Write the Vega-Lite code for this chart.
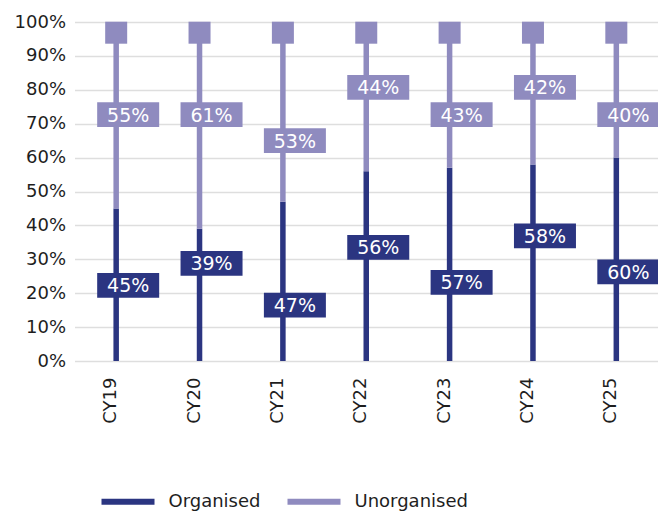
{
  "$schema": "https://vega.github.io/schema/vega-lite/v6.json",
  "width": 583.5,
  "height": 339,
  "autosize": {"type": "none"},
  "padding": {"left": 74.5, "top": 22, "right": 0, "bottom": 151},
  "background": "white",
  "config": {
    "view": {"stroke": null},
    "font": "DejaVu Sans",
    "axisY": {
      "tickCount": 10,
      "format": ".0%",
      "domain": false,
      "ticks": false,
      "labelOverlap": false,
      "labelPadding": 9,
      "labelFontSize": 18,
      "labelColor": "#1e1e1e",
      "gridColor": "#dedede",
      "gridWidth": 1.3,
      "title": null
    }
  },
  "data": {
    "values": [
      {"year": "CY19", "series": "Organised", "share": 0.45, "label_at": 0.223},
      {"year": "CY20", "series": "Organised", "share": 0.39, "label_at": 0.288},
      {"year": "CY21", "series": "Organised", "share": 0.47, "label_at": 0.165},
      {"year": "CY22", "series": "Organised", "share": 0.56, "label_at": 0.335},
      {"year": "CY23", "series": "Organised", "share": 0.57, "label_at": 0.232},
      {"year": "CY24", "series": "Organised", "share": 0.58, "label_at": 0.369},
      {"year": "CY25", "series": "Organised", "share": 0.60, "label_at": 0.263},
      {"year": "CY19", "series": "Unorganised", "share": 0.55, "label_at": 0.727},
      {"year": "CY20", "series": "Unorganised", "share": 0.61, "label_at": 0.727},
      {"year": "CY21", "series": "Unorganised", "share": 0.53, "label_at": 0.650},
      {"year": "CY22", "series": "Unorganised", "share": 0.44, "label_at": 0.807},
      {"year": "CY23", "series": "Unorganised", "share": 0.43, "label_at": 0.727},
      {"year": "CY24", "series": "Unorganised", "share": 0.42, "label_at": 0.807},
      {"year": "CY25", "series": "Unorganised", "share": 0.40, "label_at": 0.727}
    ]
  },
  "encoding": {
    "x": {
      "field": "year",
      "type": "nominal",
      "title": null,
      "scale": {"paddingInner": 0, "paddingOuter": 0},
      "axis": {
        "labelAngle": -90,
        "ticks": false,
        "domain": false,
        "grid": false,
        "labelPadding": 16,
        "labelOffset": -5,
        "labelFontSize": 18,
        "labelColor": "#1e1e1e"
      }
    }
  },
  "layer": [
    {
      "mark": {"type": "bar", "width": 5.5},
      "encoding": {
        "y": {
          "field": "share",
          "type": "quantitative",
          "stack": "zero",
          "title": null,
          "scale": {"domain": [0, 1], "nice": false},
          "axis": {"tickCount": 10, "labelOverlap": false, "format": ".0%"}
        },
        "order": {"field": "series", "sort": "ascending"},
        "color": {
          "field": "series",
          "type": "nominal",
          "scale": {"domain": ["Organised", "Unorganised"], "range": ["#2b3581", "#8f8bbf"]},
          "legend": {
            "title": null,
            "orient": "none",
            "direction": "horizontal",
            "legendX": 24,
            "legendY": 450,
            "padding": 0,
            "symbolType": "stroke",
            "symbolSize": 2809,
            "symbolStrokeWidth": 6,
            "labelFontSize": 18,
            "labelColor": "#1e1e1e",
            "labelOffset": 11,
            "columnPadding": 15,
            "encode": {
              "symbols": {
                "update": {
                  "stroke": {"scale": "color", "field": "value"},
                  "strokeWidth": {"value": 6}
                }
              }
            }
          }
        }
      }
    },
    {
      "transform": [{"filter": "datum.series === 'Unorganised'"}],
      "mark": {"type": "square", "size": 484, "yOffset": 10.7, "opacity": 1, "color": "#8f8bbf"},
      "encoding": {"y": {"datum": 1, "type": "quantitative", "title": null}}
    },
    {
      "transform": [{"filter": "datum.series === 'Organised'"}],
      "mark": {"type": "point", "shape": "M-1,-0.4H1V0.4H-1Z", "size": 3844, "filled": true, "opacity": 1, "color": "#2b3581", "xOffset": 12},
      "encoding": {"y": {"field": "label_at", "type": "quantitative", "title": null}}
    },
    {
      "transform": [{"filter": "datum.series === 'Unorganised'"}],
      "mark": {"type": "point", "shape": "M-1,-0.4H1V0.4H-1Z", "size": 3844, "filled": true, "opacity": 1, "color": "#8f8bbf", "xOffset": 12},
      "encoding": {"y": {"field": "label_at", "type": "quantitative", "title": null}}
    },
    {
      "mark": {"type": "text", "color": "white", "fontSize": 19, "align": "center", "baseline": "middle", "xOffset": 12, "dy": 1},
      "encoding": {
        "y": {"field": "label_at", "type": "quantitative", "title": null},
        "text": {"field": "share", "type": "quantitative", "format": ".0%"}
      }
    }
  ]
}
